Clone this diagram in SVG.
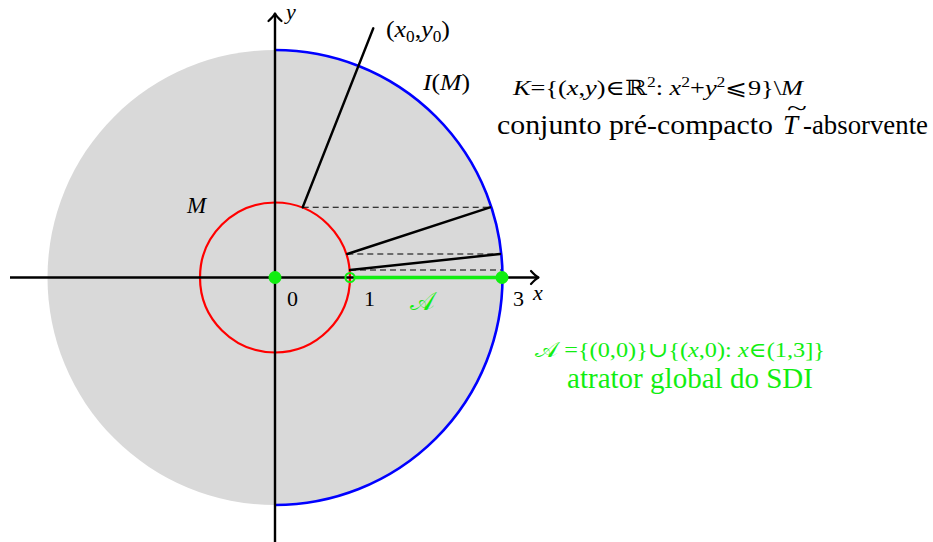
<svg xmlns="http://www.w3.org/2000/svg" width="933" height="542" viewBox="0 0 933 542">
<style>
  .ax{stroke:#000;stroke-width:2.4;fill:none}
  .seg{stroke:#000;stroke-width:2.4;fill:none;stroke-linecap:round}
  .dash{stroke:#000;stroke-width:1.1;stroke-dasharray:6 4;fill:none}
  text{font-family:"Liberation Serif","DejaVu Serif",serif;fill:#000}
  .i{font-style:italic}
  .g{fill:#11ee11}
  .gs{stroke:#11ee11}
</style>
<defs>
  <marker id="arr" markerUnits="userSpaceOnUse" markerWidth="12" markerHeight="16" viewBox="-10 -8 12 16" refX="0" refY="0" orient="auto" overflow="visible">
    <path d="M-7.5,-6.5 Q-3,-1.5 0,0 Q-3,1.5 -7.5,6.5" fill="none" stroke="#000" stroke-width="2.2" stroke-linecap="round" stroke-linejoin="round"/>
  </marker>
</defs>

<g id="region-K">
  <circle cx="275" cy="277.5" r="227.5" fill="#d9d9d9"/>
</g>
<g id="image-IM">
  <path d="M275,50 A227.5,227.5 0 0 1 275,505" fill="none" stroke="#0000ff" stroke-width="2.6"/>
</g>
<g id="set-M">
  <circle cx="275" cy="277.5" r="75" fill="none" stroke="#ff0000" stroke-width="2.2"/>
</g>

<g id="connectors">
  <line class="ax" x1="10" y1="277.5" x2="538.5" y2="277.5" marker-end="url(#arr)"/>
  <line class="ax" x1="275" y1="542" x2="275" y2="13.5" marker-end="url(#arr)"/>
  <line class="dash" x1="302.7" y1="207.3" x2="490" y2="207.3"/>
  <line class="dash" x1="347.3" y1="254" x2="500" y2="254"/>
  <line class="dash" x1="350" y1="270" x2="501" y2="270"/>
  <line class="seg" x1="302.7" y1="207.3" x2="373.3" y2="28.3"/>
  <line class="seg" x1="490" y1="207.3" x2="347.3" y2="254"/>
  <line class="seg" x1="500" y1="254" x2="350" y2="270"/>
</g>

<g id="attractor">
  <line x1="354" y1="277.5" x2="502" y2="277.5" class="gs" stroke-width="3.4"/>
  <circle cx="275" cy="277.5" r="6.5" class="g"/>
  <circle cx="502" cy="277.5" r="6.5" class="g"/>
  <circle cx="350" cy="277.5" r="4.6" fill="none" class="gs" stroke-width="2"/>
</g>

<g id="labels">
  <text x="287" y="306" font-size="22">0</text>
  <text x="364" y="306" font-size="22">1</text>
  <text x="513" y="306" font-size="22">3</text>
  <text x="533" y="300" font-size="22" class="i">x</text>
  <text x="286" y="19" font-size="22" class="i">y</text>
  <text x="187" y="213" font-size="23" class="i">M</text>
  <text x="386" y="37" font-size="24" textLength="64" lengthAdjust="spacingAndGlyphs">(<tspan class="i">x</tspan><tspan font-size="16" dy="5">0</tspan><tspan dy="-5">,</tspan><tspan class="i">y</tspan><tspan font-size="16" dy="5">0</tspan><tspan dy="-5">)</tspan></text>
  <text x="423" y="90" font-size="24" textLength="47" lengthAdjust="spacingAndGlyphs"><tspan class="i">I</tspan>(<tspan class="i">M</tspan>)</text>
  <text x="410" y="310" font-size="26" class="g">𝒜</text>
</g>

<g id="note-K">
  <text x="513" y="95" font-size="21" textLength="290" lengthAdjust="spacingAndGlyphs"><tspan class="i">K</tspan>={(<tspan class="i">x</tspan>,<tspan class="i">y</tspan>)∈ℝ<tspan font-size="14" dy="-8">2</tspan><tspan dy="8">: </tspan><tspan class="i">x</tspan><tspan font-size="14" dy="-8">2</tspan><tspan dy="8">+</tspan><tspan class="i">y</tspan><tspan font-size="14" dy="-8">2</tspan><tspan dy="8">⩽9}\</tspan><tspan class="i">M</tspan></text>
  <text x="497" y="134" font-size="27" textLength="276" lengthAdjust="spacingAndGlyphs">conjunto pré-compacto</text>
  <text x="783" y="134" font-size="27" class="i">T</text>
  <text transform="translate(797,115) scale(2.3,1.25)" x="0" y="0" font-size="16" text-anchor="middle">~</text>
  <text x="803" y="134" font-size="27" textLength="125" lengthAdjust="spacingAndGlyphs">-absorvente</text>
</g>

<g id="note-A">
  <text x="535" y="357" font-size="21" class="g" textLength="290" lengthAdjust="spacingAndGlyphs">𝒜 ={(0,0)}∪{(<tspan class="i">x</tspan>,0): <tspan class="i">x</tspan>∈(1,3]}</text>
  <text x="567" y="388" font-size="29" class="g" textLength="246" lengthAdjust="spacingAndGlyphs">atrator global do SDI</text>
</g>
</svg>
